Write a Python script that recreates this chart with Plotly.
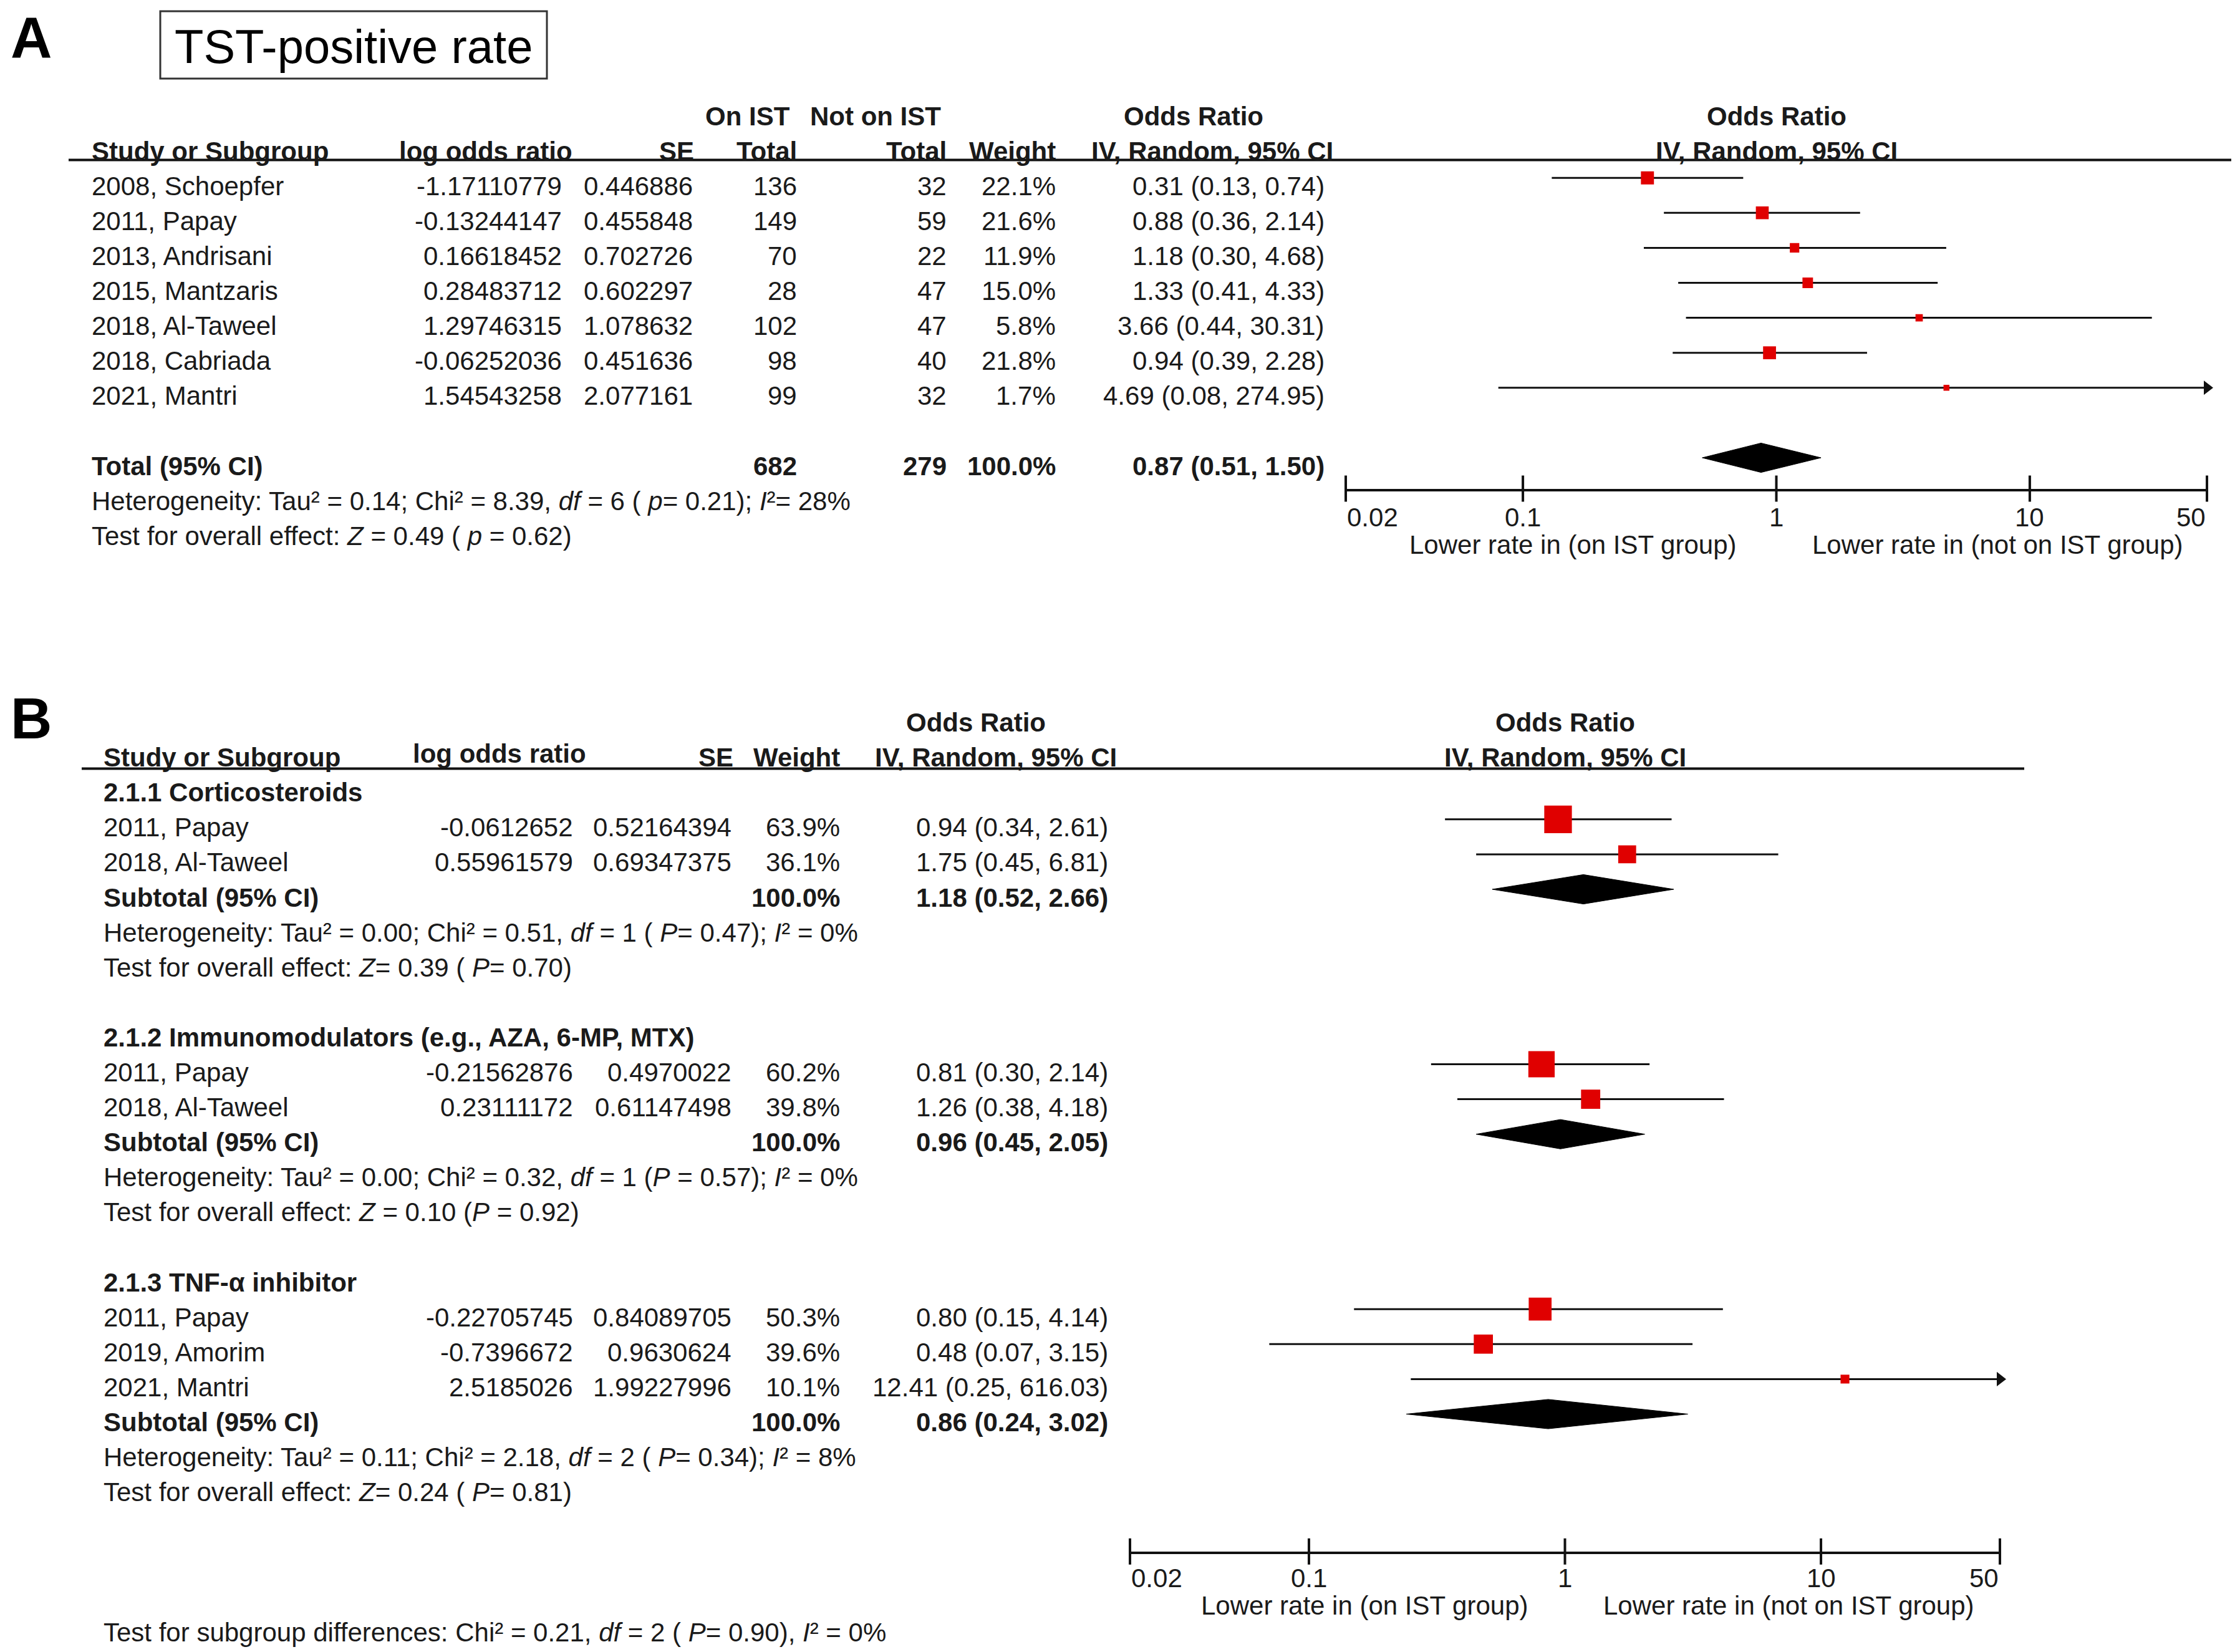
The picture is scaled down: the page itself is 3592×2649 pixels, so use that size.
import math
import plotly.graph_objects as go

# ---------------- Panel A data (TST-positive rate) ----------------
a_studies = ["2008, Schoepfer", "2011, Papay", "2013, Andrisani", "2015, Mantzaris",
             "2018, Al-Taweel", "2018, Cabriada", "2021, Mantri"]
a_lor = [-1.17110779, -0.13244147, 0.16618452, 0.28483712, 1.29746315, -0.06252036, 1.54543258]
a_se = [0.446886, 0.455848, 0.702726, 0.602297, 1.078632, 0.451636, 2.077161]
a_on_total = [136, 149, 70, 28, 102, 98, 99]
a_not_total = [32, 59, 22, 47, 47, 40, 32]
a_weight = [22.1, 21.6, 11.9, 15.0, 5.8, 21.8, 1.7]
a_or = [0.31, 0.88, 1.18, 1.33, 3.66, 0.94, 4.69]
a_lo = [0.13, 0.36, 0.30, 0.41, 0.44, 0.39, 0.08]
a_hi = [0.74, 2.14, 4.68, 4.33, 30.31, 2.28, 274.95]
a_total_on = 682
a_total_not = 279
a_total_weight = 100.0
a_total_or = [0.87, 0.51, 1.50]
a_het = "Heterogeneity: Tau² = 0.14; Chi² = 8.39, <i>df</i> = 6 ( <i>p</i>= 0.21); <i>I</i>²= 28%"
a_overall = "Test for overall effect: <i>Z</i> = 0.49 ( <i>p</i> = 0.62)"

# ---------------- Panel B data (subgroups) ----------------
b_group_names = ["2.1.1 Corticosteroids", "2.1.2 Immunomodulators (e.g., AZA, 6-MP, MTX)", "2.1.3 TNF-α inhibitor"]
b_studies = [["2011, Papay", "2018, Al-Taweel"],
             ["2011, Papay", "2018, Al-Taweel"],
             ["2011, Papay", "2019, Amorim", "2021, Mantri"]]
b_lor = [[-0.0612652, 0.55961579], [-0.21562876, 0.23111172], [-0.22705745, -0.7396672, 2.5185026]]
b_se = [[0.52164394, 0.69347375], [0.4970022, 0.61147498], [0.84089705, 0.9630624, 1.99227996]]
b_weight = [[63.9, 36.1], [60.2, 39.8], [50.3, 39.6, 10.1]]
b_or = [[0.94, 1.75], [0.81, 1.26], [0.80, 0.48, 12.41]]
b_lo = [[0.34, 0.45], [0.30, 0.38], [0.15, 0.07, 0.25]]
b_hi = [[2.61, 6.81], [2.14, 4.18], [4.14, 3.15, 616.03]]
b_sub_or = [1.18, 0.96, 0.86]
b_sub_lo = [0.52, 0.45, 0.24]
b_sub_hi = [2.66, 2.05, 3.02]
b_het = ["Heterogeneity: Tau² = 0.00; Chi² = 0.51, <i>df</i> = 1 ( <i>P</i>= 0.47); <i>I</i>² = 0%",
         "Heterogeneity: Tau² = 0.00; Chi² = 0.32, <i>df</i> = 1 (<i>P</i> = 0.57); <i>I</i>² = 0%",
         "Heterogeneity: Tau² = 0.11; Chi² = 2.18, <i>df</i> = 2 ( <i>P</i>= 0.34); <i>I</i>² = 8%"]
b_overall = ["Test for overall effect: <i>Z</i>= 0.39 ( <i>P</i>= 0.70)",
             "Test for overall effect: <i>Z</i> = 0.10 (<i>P</i> = 0.92)",
             "Test for overall effect: <i>Z</i>= 0.24 ( <i>P</i>= 0.81)"]
b_subgroup_diff = "Test for subgroup differences: Chi² = 0.21, <i>df</i> = 2 ( <i>P</i>= 0.90), <i>I</i>² = 0%"

# axis ticks
tick_vals = [0.02, 0.1, 1, 10, 50]
tick_text = ["0.02", "0.1", "1", "10", "50"]
x_min, x_max = 0.02, 50
left_label = "Lower rate in (on IST group)"
right_label = "Lower rate in (not on IST group)"

# ---------------- layout constants ----------------
PAGE_W, PAGE_H = 3592, 2649
OFF = 8                       # default page body margin
W, H = PAGE_W - 2 * OFF, PAGE_H - 2 * OFF
FONT = "Liberation Sans, Arial, sans-serif"
TXT = "#1a1a1a"
RED = "#e00000"
FS = 42
ROWH = 56.1        # row height in px
TXT_SHIFT = 13     # text sits slightly below the whisker line (px)


def px(x):
    return (x - OFF) / W


def py(y):
    return 1 - (y - OFF) / H


def msize(w):
    return 8.5 + 0.56 * w


def fmt_or(o, l, h):
    return f"{o:.2f} ({l:.2f}, {h:.2f})"


fig = go.Figure()
ann = []
shapes = []

# panel geometry (page px)
A = dict(xl=2158, xr=3539, top=256.6, bot=783.5, row0=285.2)
B = dict(xl=1812, xr=3207, top=1232.5, bot=2487.8, row0=1257.7)
for P in (A, B):
    P["rtop"] = (P["top"] - P["row0"]) / ROWH
    P["rbot"] = (P["bot"] - P["row0"]) / ROWH


def row_y(P, row, shift=TXT_SHIFT):
    # same linear row scale as the panel's y axis, expressed in paper units
    return py(P["row0"] + row * ROWH + shift)


def cell(P, xp, row, text, anchor, bold=False, size=FS, shift=TXT_SHIFT):
    if bold:
        text = f"<b>{text}</b>"
    ann.append(dict(x=px(xp), xref="paper", y=row_y(P, row, shift), yref="paper", text=text,
                    xanchor=anchor, yanchor="middle", showarrow=False,
                    font=dict(family=FONT, size=size, color=TXT)))


def plot_header(P, row, text, xref):
    ann.append(dict(x=math.log10(1), xref=xref, y=row_y(P, row), yref="paper",
                    text=f"<b>{text}</b>", xanchor="center", yanchor="middle", showarrow=False,
                    font=dict(family=FONT, size=FS, color=TXT)))


def forest(rows, ors, los, his, weights, xa, ya):
    xs, ys, arrx, arry = [], [], [], []
    for r, l, h in zip(rows, los, his):
        xs += [l, min(h, x_max), None]
        ys += [r, r, None]
        if h > x_max:
            arrx.append(x_max)
            arry.append(r)
    fig.add_trace(go.Scatter(x=xs, y=ys, mode="lines", line=dict(color="#111", width=3),
                             xaxis=xa, yaxis=ya, showlegend=False, hoverinfo="skip"))
    if arrx:
        fig.add_trace(go.Scatter(x=arrx, y=arry, mode="markers",
                                 marker=dict(symbol="triangle-right", size=20, color="#111"),
                                 xaxis=xa, yaxis=ya, showlegend=False, cliponaxis=False))
    fig.add_trace(go.Scatter(x=ors, y=rows, mode="markers",
                             marker=dict(symbol="square", size=[msize(w) for w in weights],
                                         color=RED, opacity=1, line=dict(width=0)),
                             xaxis=xa, yaxis=ya, showlegend=False))


def diamond(row, o, l, h, xa, ya, half=0.42):
    fig.add_trace(go.Scatter(x=[l, o, h, o, l], y=[row, row - half, row, row + half, row],
                             mode="lines", fill="toself", fillcolor="#000",
                             line=dict(color="#000", width=1),
                             xaxis=xa, yaxis=ya, showlegend=False))


def axis_ticks(P, xa, ya, xref, label_y, lab_left_x, lab_right_x):
    fig.add_trace(go.Scatter(x=tick_vals, y=[P["rbot"]] * len(tick_vals), mode="markers",
                             marker=dict(symbol="line-ns", size=30, line=dict(color="#111", width=4)),
                             xaxis=xa, yaxis=ya, showlegend=False, cliponaxis=False))
    for i, (v, t) in enumerate(zip(tick_vals, tick_text)):
        anchor = "left" if i == 0 else ("right" if i == len(tick_vals) - 1 else "center")
        ann.append(dict(x=math.log10(v), xref=xref, y=py(label_y), yref="paper", text=t,
                        xanchor=anchor, yanchor="middle", showarrow=False,
                        font=dict(family=FONT, size=FS, color=TXT)))
    for xx, t in ((lab_left_x, left_label), (lab_right_x, right_label)):
        ann.append(dict(x=px(xx), xref="paper", y=py(label_y + 44), yref="paper", text=t,
                        xanchor="center", yanchor="middle", showarrow=False,
                        font=dict(family=FONT, size=FS, color=TXT)))


# ================= Panel A =================
ann.append(dict(x=px(50), y=py(60), xref="paper", yref="paper", text="<b>A</b>", showarrow=False,
                xanchor="center", yanchor="middle", height=92, valign="middle",
                font=dict(family=FONT, size=92, color="#000")))
shapes.append(dict(type="rect", xref="paper", yref="paper", x0=px(257), x1=px(877), y0=py(18), y1=py(126),
                   line=dict(color="#333", width=3)))
ann.append(dict(x=px(567), y=py(74), xref="paper", yref="paper", text="TST-positive rate", showarrow=False,
                xanchor="center", yanchor="middle", font=dict(family=FONT, size=76, color="#000")))

# headers
cell(A, 1199, -2, "On IST", "center", bold=True)
cell(A, 1404, -2, "Not on IST", "center", bold=True)
cell(A, 1914, -2, "Odds Ratio", "center", bold=True)
cell(A, 145, -1, "Study or Subgroup", "left", bold=True)
cell(A, 779, -1, "log odds ratio", "center", bold=True)
cell(A, 1115, -1, "SE", "right", bold=True)
cell(A, 1280, -1, "Total", "right", bold=True)
cell(A, 1520, -1, "Total", "right", bold=True)
cell(A, 1695, -1, "Weight", "right", bold=True)
cell(A, 2140, -1, "IV, Random, 95% CI", "right", bold=True)
plot_header(A, -2, "Odds Ratio", "x")
plot_header(A, -1, "IV, Random, 95% CI", "x")
shapes.append(dict(type="line", xref="paper", yref="y domain", x0=px(110), x1=px(3578), y0=1, y1=1,
                   line=dict(color="#111", width=4)))

a_rows = list(range(len(a_studies)))
for r, s, l, se, n1, n2, w, o, lo, hi in zip(a_rows, a_studies, a_lor, a_se, a_on_total, a_not_total,
                                             a_weight, a_or, a_lo, a_hi):
    cell(A, 145, r, s, "left")
    cell(A, 903, r, repr(l), "right")
    cell(A, 1113, r, repr(se), "right")
    cell(A, 1280, r, str(n1), "right")
    cell(A, 1520, r, str(n2), "right")
    cell(A, 1695, r, f"{w:.1f}%", "right")
    cell(A, 2126, r, fmt_or(o, lo, hi), "right")
forest(a_rows, a_or, a_lo, a_hi, a_weight, "x", "y")

a_trow = len(a_studies) + 1
cell(A, 145, a_trow, "Total (95% CI)", "left", bold=True)
cell(A, 1280, a_trow, str(a_total_on), "right", bold=True)
cell(A, 1520, a_trow, str(a_total_not), "right", bold=True)
cell(A, 1695, a_trow, f"{a_total_weight:.1f}%", "right", bold=True)
cell(A, 2126, a_trow, fmt_or(*a_total_or), "right", bold=True)
diamond(a_trow, *a_total_or, "x", "y")
cell(A, 145, a_trow + 1, a_het, "left")
cell(A, 145, a_trow + 2, a_overall, "left")

shapes.append(dict(type="line", xref="x", yref="y domain", x0=0, x1=0, y0=0, y1=1,
                   line=dict(color="#111", width=3), layer="below"))
axis_ticks(A, "x", "y", "x", 829, 2522, 3203)

# ================= Panel B =================
ann.append(dict(x=px(50), y=py(1152), xref="paper", yref="paper", text="<b>B</b>", showarrow=False,
                xanchor="center", yanchor="middle", font=dict(family=FONT, size=92, color="#000")))
cell(B, 1565, -2, "Odds Ratio", "center", bold=True)
cell(B, 164, -1, "Study or Subgroup", "left", bold=True)
cell(B, 801, -1, "log odds ratio", "center", bold=True, shift=TXT_SHIFT - 6)
cell(B, 1178, -1, "SE", "right", bold=True)
cell(B, 1349, -1, "Weight", "right", bold=True)
cell(B, 1793, -1, "IV, Random, 95% CI", "right", bold=True)
plot_header(B, -2, "Odds Ratio", "x2")
plot_header(B, -1, "IV, Random, 95% CI", "x2")
shapes.append(dict(type="line", xref="paper", yref="y2 domain", x0=px(131), x1=px(3246), y0=1, y1=1,
                   line=dict(color="#111", width=4)))

r = 0
last = 0
for g in range(len(b_group_names)):
    cell(B, 164, r, b_group_names[g], "left", bold=True)
    rows = [r + 1 + i for i in range(len(b_studies[g]))]
    for rr, s, l, se, w, o, lo, hi in zip(rows, b_studies[g], b_lor[g], b_se[g], b_weight[g],
                                          b_or[g], b_lo[g], b_hi[g]):
        cell(B, 164, rr, s, "left")
        cell(B, 921, rr, repr(l), "right")
        cell(B, 1175, rr, repr(se), "right")
        cell(B, 1349, rr, f"{w:.1f}%", "right")
        cell(B, 1779, rr, fmt_or(o, lo, hi), "right")
    forest(rows, b_or[g], b_lo[g], b_hi[g], b_weight[g], "x2", "y2")
    srow = rows[-1] + 1
    cell(B, 164, srow, "Subtotal (95% CI)", "left", bold=True)
    cell(B, 1349, srow, f"{sum(b_weight[g]):.1f}%", "right", bold=True)
    cell(B, 1779, srow, fmt_or(b_sub_or[g], b_sub_lo[g], b_sub_hi[g]), "right", bold=True)
    diamond(srow, b_sub_or[g], b_sub_lo[g], b_sub_hi[g], "x2", "y2")
    cell(B, 164, srow + 1, b_het[g], "left")
    cell(B, 164, srow + 2, b_overall[g], "left")
    last = srow + 2
    r = srow + 4
cell(B, 164, last + 4, b_subgroup_diff, "left")

shapes.append(dict(type="line", xref="x2", yref="y2 domain", x0=0, x1=0, y0=0, y1=1,
                   line=dict(color="#111", width=3), layer="below"))
axis_ticks(B, "x2", "y2", "x2", 2530, 2188, 2868)

# ================= axes =================
xcommon = dict(type="log", range=[math.log10(x_min), math.log10(x_max)], showgrid=False, zeroline=False,
               showline=True, linecolor="#111", linewidth=4, ticks="", showticklabels=False,
               tickvals=tick_vals)
fig.update_layout(
    width=W, height=H, margin=dict(l=0, r=0, t=0, b=0),
    paper_bgcolor="white", plot_bgcolor="rgba(0,0,0,0)",
    xaxis=dict(domain=[px(A["xl"]), px(A["xr"])], anchor="y", **xcommon),
    yaxis=dict(domain=[py(A["bot"]), py(A["top"])], range=[A["rbot"], A["rtop"]], visible=False),
    xaxis2=dict(domain=[px(B["xl"]), px(B["xr"])], anchor="y2", **xcommon),
    yaxis2=dict(domain=[py(B["bot"]), py(B["top"])], range=[B["rbot"], B["rtop"]], visible=False),
    annotations=ann, shapes=shapes, showlegend=False,
    font=dict(family=FONT, size=FS, color=TXT),
)

fig.write_html("out.html")
